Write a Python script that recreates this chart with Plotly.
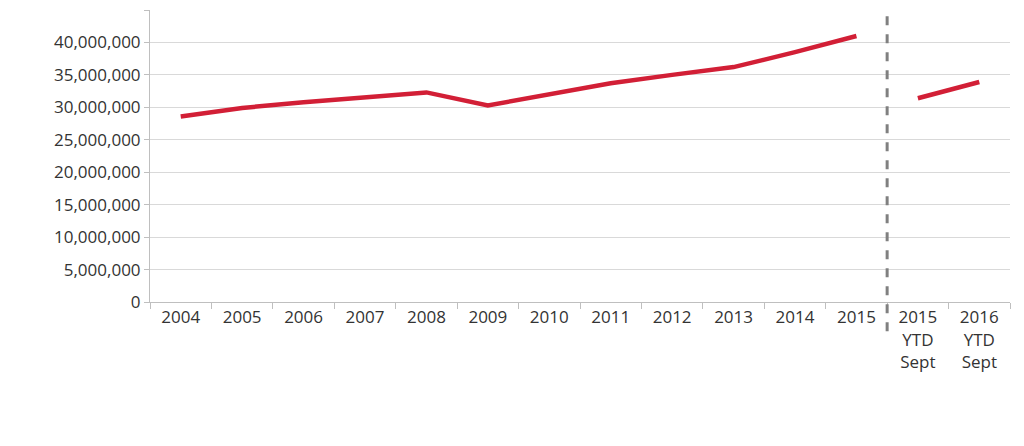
import plotly.graph_objects as go

years = ["2004", "2005", "2006", "2007", "2008", "2009", "2010", "2011",
         "2012", "2013", "2014", "2015"]
annual = [28600000, 29900000, 30800000, 31500000, 32300000, 30300000,
          32000000, 33700000, 35000000, 36200000, 38500000, 41000000]
ytd_labels = ["2015<br>YTD<br>Sept", "2016<br>YTD<br>Sept"]
ytd = [31400000, 33900000]

cats = years + ytd_labels
RED = "#d21f36"

fig = go.Figure()
fig.add_trace(go.Scatter(x=years, y=annual, mode="lines",
                         line=dict(color=RED, width=4.5), showlegend=False))
fig.add_trace(go.Scatter(x=ytd_labels, y=ytd, mode="lines",
                         line=dict(color=RED, width=4.5), showlegend=False))

# divider between annual and YTD figures
fig.add_shape(type="line", xref="x", yref="paper", x0=11.5, x1=11.5,
              y0=-0.1, y1=1, line=dict(color="#808080", width=3, dash="dash"))

fig.update_layout(
    width=1024, height=446,
    margin=dict(l=142, r=22, t=2, b=152),
    plot_bgcolor="white", paper_bgcolor="white",
    font=dict(family="Open Sans, sans-serif", size=17, color="#333"),
    xaxis=dict(type="category", categoryorder="array", categoryarray=cats,
               tickson="boundaries", ticks="outside", ticklen=6,
               tickcolor="#bfbfbf", showline=True, linecolor="#bfbfbf",
               showgrid=False, range=[-0.5, 13.5]),
    yaxis=dict(range=[0, 45000000], dtick=5000000, tickformat=",d",
               showgrid=True, gridcolor="#d9d9d9", showline=True,
               linecolor="#bfbfbf", ticks="outside", ticklen=5,
               tickcolor="#bfbfbf", zeroline=False),
)

fig.write_html("out.html")
